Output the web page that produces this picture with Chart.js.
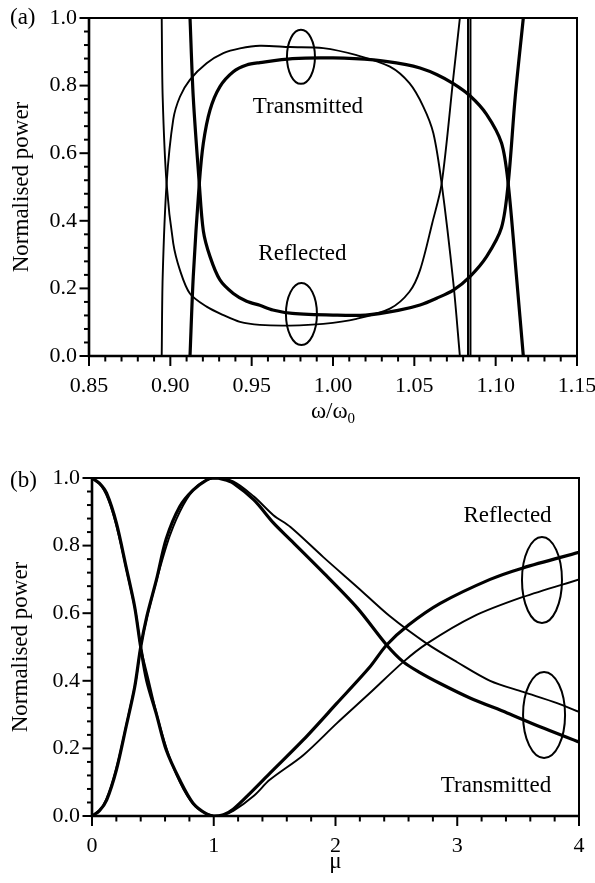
<!DOCTYPE html>
<html>
<head>
<meta charset="utf-8">
<script src="https://cdn.jsdelivr.net/npm/chart.js@4"></script>
<style>
  html, body { margin: 0; padding: 0; background: #fff; }
  #wrap { position: relative; width: 595px; height: 883px; }
  canvas { position: absolute; left: 0; }
  #chartA { top: 0; }
  #chartB { top: 440px; }
</style>
</head>
<body>
<div id="wrap">
  <canvas id="chartA" width="595" height="440"></canvas>
  <canvas id="chartB" width="595" height="443"></canvas>
</div>
<script>
// ---- panel (a): power vs normalised frequency ----
const aXTicks = [0.85, 0.90, 0.95, 1.00, 1.05, 1.10, 1.15];
const aXTickLabels = ['0.85', '0.90', '0.95', '1.00', '1.05', '1.10', '1.15'];
const yTicks = [0, 0.2, 0.4, 0.6, 0.8, 1.0];
const yTickLabels = ['0.0', '0.2', '0.4', '0.6', '0.8', '1.0'];

const aThinTrans = [[0.8947, 0], [0.8953, 0.235], [0.8977, 0.51], [0.9018, 0.70], [0.9059, 0.767], [0.912, 0.817],
  [0.9223, 0.866], [0.9326, 0.896], [0.9428, 0.91], [0.955, 0.918], [0.9735, 0.914], [0.994, 0.911],
  [1.0145, 0.89], [1.035, 0.856], [1.047, 0.807], [1.0555, 0.738], [1.0617, 0.659], [1.0668, 0.51],
  [1.074, 0.216], [1.078, 0]];
const aThinRefl = [[0.8947, 1], [0.8953, 0.765], [0.8977, 0.51], [0.9018, 0.333], [0.9059, 0.254], [0.912, 0.185],
  [0.9223, 0.146], [0.9326, 0.121], [0.9428, 0.101], [0.955, 0.092], [0.9735, 0.09], [0.994, 0.095],
  [1.0145, 0.11], [1.035, 0.14], [1.047, 0.19], [1.0535, 0.254], [1.061, 0.393], [1.0668, 0.51],
  [1.074, 0.825], [1.078, 1]];
const aThickTrans = [[0.9121, 0], [0.9141, 0.235], [0.9178, 0.51], [0.9203, 0.63], [0.9244, 0.728], [0.9305, 0.797],
  [0.9387, 0.841], [0.9469, 0.861], [0.955, 0.868], [0.975, 0.88], [1.0, 0.882], [1.025, 0.876],
  [1.045, 0.862], [1.0535, 0.852], [1.0637, 0.833], [1.074, 0.806], [1.0842, 0.77], [1.0944, 0.715],
  [1.1036, 0.63], [1.1077, 0.51], [1.1128, 0.235], [1.117, 0]];
const aThickRefl = [[0.9121, 1], [0.9141, 0.765], [0.9178, 0.51], [0.9203, 0.37], [0.9244, 0.294], [0.9305, 0.225],
  [0.9387, 0.185], [0.9469, 0.162], [0.955, 0.15], [0.963, 0.136], [0.975, 0.126], [1.0, 0.121],
  [1.02, 0.121], [1.04, 0.135], [1.0535, 0.151], [1.0637, 0.171], [1.074, 0.195], [1.0842, 0.235],
  [1.0944, 0.294], [1.1036, 0.38], [1.1077, 0.51], [1.112, 0.765], [1.117, 1]];
const aEdgeLine1 = [[1.0830, 0], [1.0830, 1]];
const aEdgeLine2 = [[1.0845, 0], [1.0845, 1]];

// ---- panel (b): power vs mu ----
const bXTicks = [0, 1, 2, 3, 4];
const bXTickLabels = ['0', '1', '2', '3', '4'];

const bThickRefl = [[0, 1], [0.06, 0.985], [0.12, 0.955], [0.2, 0.867], [0.28, 0.737], [0.35, 0.62], [0.4, 0.5],
  [0.45, 0.4], [0.53, 0.3], [0.61, 0.195], [0.72, 0.107], [0.83, 0.038], [0.94, 0.006], [1.0, 0],
  [1.08, 0.004], [1.16, 0.02], [1.32, 0.075], [1.46, 0.126], [1.735, 0.225], [2.01, 0.333],
  [2.28, 0.44], [2.42, 0.506], [2.6, 0.565], [2.86, 0.629], [3.27, 0.70], [3.54, 0.734], [4.0, 0.78]];
const bThickTrans = [[0, 0], [0.06, 0.015], [0.12, 0.047], [0.2, 0.136], [0.28, 0.264], [0.35, 0.38], [0.4, 0.5],
  [0.45, 0.59], [0.53, 0.7], [0.61, 0.82], [0.72, 0.915], [0.83, 0.964], [0.94, 0.994], [1.0, 1.0],
  [1.08, 0.996], [1.16, 0.985], [1.33, 0.935], [1.49, 0.867], [1.63, 0.817], [1.9, 0.72], [2.18, 0.615],
  [2.42, 0.506], [2.557, 0.456], [2.69, 0.425], [2.86, 0.392], [3.1, 0.35], [3.41, 0.305], [3.68, 0.264],
  [4.0, 0.219]];
const bThinRefl = [[0, 1], [0.08, 0.975], [0.15, 0.92], [0.22, 0.83], [0.3, 0.70], [0.36, 0.60], [0.4, 0.5],
  [0.46, 0.41], [0.54, 0.29], [0.64, 0.17], [0.75, 0.08], [0.86, 0.025], [1.0, 0],
  [1.08, 0.004], [1.16, 0.015], [1.33, 0.06], [1.46, 0.107], [1.735, 0.18], [2.01, 0.274],
  [2.28, 0.363], [2.557, 0.456], [2.75, 0.51], [3.13, 0.59], [3.54, 0.648], [4.0, 0.70]];
const bThinTrans = [[0, 0], [0.08, 0.025], [0.15, 0.08], [0.22, 0.17], [0.3, 0.30], [0.36, 0.40], [0.4, 0.5],
  [0.46, 0.60], [0.54, 0.71], [0.64, 0.83], [0.75, 0.92], [0.86, 0.975], [1.0, 1.0],
  [1.16, 0.99], [1.33, 0.945], [1.49, 0.89], [1.63, 0.855], [1.9, 0.766], [2.18, 0.677], [2.45, 0.59],
  [2.75, 0.51], [3.0, 0.455], [3.27, 0.40], [3.54, 0.367], [3.82, 0.334], [4.0, 0.308]];

const SERIF = "'Liberation Serif', 'Times New Roman', serif";
Chart.defaults.font.family = SERIF;
Chart.defaults.font.size = 22;
Chart.defaults.color = '#000';

const toXY = (pts) => pts.map(([x, y]) => ({ x, y }));

function curve(pts, width, straight) {
  return {
    data: toXY(pts),
    showLine: true,
    borderColor: '#000',
    borderWidth: width,
    pointRadius: 0,
    fill: false,
    tension: straight ? 0 : 0.3
  };
}

// major ticks get a label, minor ones are spread between them
function buildTicks(majors, labels, parts) {
  return (scale) => {
    const ticks = [];
    majors.forEach((m, i) => {
      ticks.push({ value: m, isMajor: true, lbl: labels[i] });
      if (i < majors.length - 1) {
        const step = (majors[i + 1] - m) / parts;
        for (let k = 1; k < parts; k++) {
          ticks.push({ value: m + k * step, isMajor: false, lbl: '' });
        }
      }
    });
    scale.ticks = ticks;
  };
}

function decorPlugin(cfg) {
  return {
    id: 'decor',
    afterDraw(chart) {
      const { ctx, chartArea: a, scales: { x, y } } = chart;
      ctx.save();
      ctx.strokeStyle = '#000';
      ctx.fillStyle = '#000';
      ctx.lineCap = 'butt';

      // frame
      ctx.lineWidth = 2;
      ctx.beginPath();
      ctx.moveTo(a.left, a.top);
      ctx.lineTo(a.right, a.top);
      ctx.lineTo(a.right, a.bottom);
      ctx.stroke();
      ctx.lineWidth = 2.6;
      ctx.beginPath();
      ctx.moveTo(a.left, a.top - 1);
      ctx.lineTo(a.left, a.bottom);
      ctx.lineTo(a.right + 1, a.bottom);
      ctx.stroke();

      // tick marks
      ctx.lineWidth = 2;
      x.ticks.forEach((t) => {
        const px = x.getPixelForValue(t.value);
        ctx.beginPath();
        ctx.moveTo(px, a.bottom);
        ctx.lineTo(px, a.bottom + (t.isMajor ? 10 : 5.5));
        ctx.stroke();
      });
      y.ticks.forEach((t) => {
        const py = y.getPixelForValue(t.value);
        ctx.beginPath();
        ctx.moveTo(a.left, py);
        ctx.lineTo(a.left - (t.isMajor ? 9.5 : 5), py);
        ctx.stroke();
      });

      // ellipses around the curve pairs
      ctx.lineWidth = 2;
      cfg.rings.forEach((r) => {
        ctx.beginPath();
        ctx.ellipse(x.getPixelForValue(r.x), y.getPixelForValue(r.y), r.rx, r.ry, 0, 0, Math.PI * 2);
        ctx.stroke();
      });

      // curve labels
      ctx.font = '23px ' + SERIF;
      ctx.textAlign = 'center';
      ctx.textBaseline = 'alphabetic';
      cfg.notes.forEach((n) => {
        ctx.fillText(n.text, x.getPixelForValue(n.x), y.getPixelForValue(n.y));
      });

      // panel letter
      ctx.textAlign = 'left';
      ctx.fillText(cfg.letter, 10, cfg.letterY);

      // y title
      ctx.save();
      ctx.translate(cfg.yTitleX, (a.top + a.bottom) / 2);
      ctx.rotate(-Math.PI / 2);
      ctx.textAlign = 'center';
      ctx.textBaseline = 'middle';
      ctx.fillText('Normalised power', 0, 0);
      ctx.restore();

      // x title (with optional subscript)
      const cx = (a.left + a.right) / 2;
      const by = a.bottom + cfg.xTitleDy;
      ctx.font = '23px ' + SERIF;
      const w1 = ctx.measureText(cfg.xTitle).width;
      let w2 = 0;
      if (cfg.xSub) {
        ctx.font = '15px ' + SERIF;
        w2 = ctx.measureText(cfg.xSub).width;
      }
      const x0 = cx - (w1 + w2) / 2;
      ctx.font = '23px ' + SERIF;
      ctx.textAlign = 'left';
      ctx.fillText(cfg.xTitle, x0, by);
      if (cfg.xSub) {
        ctx.font = '15px ' + SERIF;
        ctx.fillText(cfg.xSub, x0 + w1, by + 5);
      }
      ctx.restore();
    }
  };
}

function makePanel(canvas, p) {
  return new Chart(canvas, {
    type: 'scatter',
    data: { datasets: p.datasets },
    options: {
      responsive: false,
      animation: false,
      devicePixelRatio: 1,
      layout: { padding: { left: 0, top: p.top, right: p.right, bottom: 0 } },
      plugins: { legend: { display: false }, tooltip: { enabled: false } },
      scales: {
        x: {
          type: 'linear',
          min: p.xMin,
          max: p.xMax,
          afterBuildTicks: buildTicks(p.xTicks, p.xLabels, 5),
          afterFit: (s) => { s.height = p.xAxisH; s.paddingLeft = 0; s.paddingRight = 0; },
          grid: { display: false, drawTicks: false },
          border: { display: false },
          ticks: { autoSkip: false, maxRotation: 0, minRotation: 0, padding: 17, callback: (v, i, t) => t[i].lbl }
        },
        y: {
          type: 'linear',
          min: 0,
          max: 1,
          afterBuildTicks: buildTicks(yTicks, yTickLabels, 5),
          afterFit: (s) => { s.width = p.yAxisW; s.paddingTop = 0; s.paddingBottom = 0; },
          grid: { display: false, drawTicks: false },
          border: { display: false },
          ticks: { autoSkip: false, padding: 12, callback: (v, i, t) => t[i].lbl }
        }
      }
    },
    plugins: [decorPlugin(p.decor)]
  });
}

makePanel(document.getElementById('chartA'), {
  xMin: 0.85, xMax: 1.15, xTicks: aXTicks, xLabels: aXTickLabels,
  top: 18, right: 18, xAxisH: 84, yAxisW: 89,
  datasets: [
    curve(aThinTrans, 1.9), curve(aThinRefl, 1.9),
    curve(aThickTrans, 3.2), curve(aThickRefl, 3.2),
    curve(aEdgeLine1, 2, true), curve(aEdgeLine2, 2, true)
  ],
  decor: {
    letter: '(a)', letterY: 24, yTitleX: 22, xTitle: '\u03c9/\u03c9', xSub: '0', xTitleDy: 62,
    rings: [{ x: 0.9803, y: 0.885, rx: 14, ry: 27 }, { x: 0.9806, y: 0.124, rx: 15.5, ry: 31 }],
    notes: [{ text: 'Transmitted', x: 0.9846, y: 0.719 }, { text: 'Reflected', x: 0.9812, y: 0.284 }]
  }
});

makePanel(document.getElementById('chartB'), {
  xMin: 0, xMax: 4, xTicks: bXTicks, xLabels: bXTickLabels,
  top: 38, right: 16, xAxisH: 67, yAxisW: 92,
  datasets: [
    curve(bThinRefl, 1.9), curve(bThinTrans, 1.9),
    curve(bThickRefl, 3.2), curve(bThickTrans, 3.2)
  ],
  decor: {
    letter: '(b)', letterY: 47, yTitleX: 21, xTitle: '\u03bc', xSub: '', xTitleDy: 52,
    rings: [{ x: 3.696, y: 0.698, rx: 20, ry: 43 }, { x: 3.713, y: 0.299, rx: 21, ry: 43 }],
    notes: [{ text: 'Reflected', x: 3.413, y: 0.871 }, { text: 'Transmitted', x: 3.318, y: 0.072 }]
  }
});
</script>
</body>
</html>
